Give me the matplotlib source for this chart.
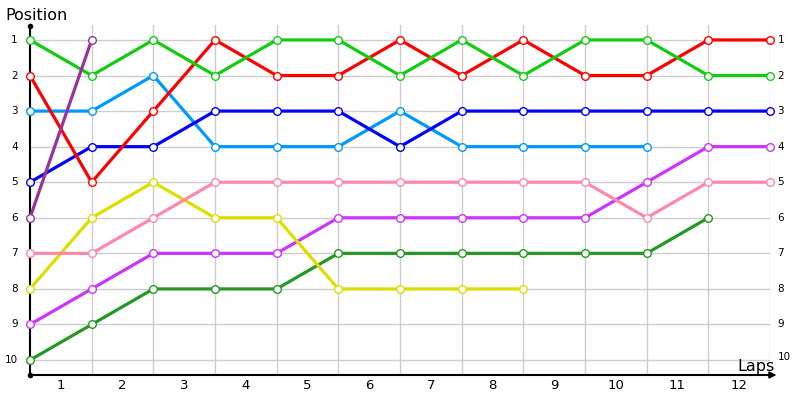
import matplotlib
matplotlib.use("Agg")
import matplotlib.pyplot as plt

laps = list(range(13))
lap_labels = [str(i) for i in range(1, 13)]
positions = list(range(1, 11))

green = [1, 2, 1, 2, 1, 1, 2, 1, 2, 1, 1, 2, 2]
red = [2, 5, 3, 1, 2, 2, 1, 2, 1, 2, 2, 1, 1]
lightblue = [3, 3, 2, 4, 4, 4, 3, 4, 4, 4, 4]
blue = [5, 4, 4, 3, 3, 3, 4, 3, 3, 3, 3, 3, 3]
purple = [6, 1]
pink = [7, 7, 6, 5, 5, 5, 5, 5, 5, 5, 6, 5, 5]
yellow = [8, 6, 5, 6, 6, 8, 8, 8, 8]
magenta = [9, 8, 7, 7, 7, 6, 6, 6, 6, 6, 5, 4, 4]
darkgreen = [10, 9, 8, 8, 8, 7, 7, 7, 7, 7, 7, 6]

series = [
    (darkgreen, "#229922"),
    (magenta, "#cc33ff"),
    (yellow, "#dddd00"),
    (pink, "#ff88aa"),
    (lightblue, "#0099ff"),
    (blue, "#0000ff"),
    (red, "#ff0000"),
    (green, "#11cc11"),
    (purple, "#993399"),
]

fig = plt.figure(figsize=(8, 4), dpi=100)
ax = fig.add_axes([30 / 800, 1 - 375 / 400, 740 / 800, 350 / 400])

for vals, col in series:
    ax.plot(laps[:len(vals)], vals, color=col, lw=2.3, marker="o", ms=5.5,
            mfc="white", mec=col, mew=1.0, zorder=3, solid_capstyle="round",
            clip_on=False)

ax.set_xlim(0, 12)
ax.set_ylim(10.42, 0.58)
ax.set_xticks(range(1, 13))
ax.set_yticks(positions)
ax.grid(True, color="#cccccc", lw=1, zorder=0)
ax.tick_params(length=0, labelleft=False, labelbottom=False)
for s in ["top", "right"]:
    ax.spines[s].set_visible(False)
ax.spines["left"].set_linewidth(1.5)
ax.spines["bottom"].set_linewidth(1.5)
ax.spines["left"].set_zorder(2)
ax.set_facecolor("white")

for i, lab in enumerate(lap_labels):
    ax.text(i + 0.5, 10.42 + 0.3, lab, ha="center", va="center", fontsize=9.5,
            clip_on=False)
for p in positions:
    ax.text(-0.2, p, str(p), ha="right", va="center", fontsize=7.5, clip_on=False)
    dy = -0.1 if p == 10 else 0
    ax.text(12.12, p + dy, str(p), ha="left", va="center", fontsize=7.5, clip_on=False)

# axis arrows
ax.annotate("", xy=(12.15, 10.42), xytext=(11.9, 10.42),
            arrowprops=dict(arrowstyle="-|>", color="black", lw=1.2,
                            mutation_scale=10), annotation_clip=False)
ax.plot([0], [0.6], marker="o", ms=3, color="black", clip_on=False, zorder=5)
ax.plot([0], [10.42], marker="o", ms=3, color="black", clip_on=False, zorder=5)

fig.text(5 / 800, 1 - 15 / 400, "Position", fontsize=11.5, ha="left", va="center")
fig.text(775 / 800, 1 - 366 / 400, "Laps", fontsize=11.5, ha="right", va="center")

fig.savefig("out.png", dpi=100)
